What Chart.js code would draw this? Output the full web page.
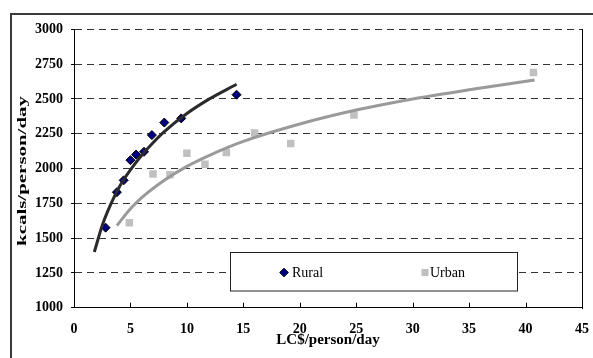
<!DOCTYPE html>
<html>
<head>
<meta charset="utf-8">
<script src="https://cdn.jsdelivr.net/npm/chart.js@4/dist/chart.umd.min.js"></script>
<style>
  html, body { margin: 0; padding: 0; background: #fff; }
  canvas { display: block; }
</style>
</head>
<body>
<canvas id="c" width="593" height="358"></canvas>
<script>
// Daily calorie intake against daily spending, rural and urban households
const seriesNames = ['Rural', 'Urban'];

const ruralIncome = [2.8, 3.8, 4.4, 5.0, 5.5, 6.2, 6.9, 8.0, 9.5, 14.4];
const ruralKcal   = [1575, 1830, 1915, 2060, 2100, 2120, 2240, 2330, 2360, 2530];

const urbanIncome = [4.9, 7.0, 8.5, 10.0, 11.6, 13.5, 16.0, 19.2, 24.8, 40.7];
const urbanKcal   = [1610, 1960, 1955, 2110, 2030, 2115, 2255, 2180, 2385, 2690];

// Logarithmic trend curves, sampled along their length
const ruralTrendIncome = [1.8, 2.5, 3, 4, 5, 6, 7, 8, 10, 12, 14.4];
const ruralTrendKcal   = [1400, 1590, 1695, 1865, 1990, 2095, 2185, 2265, 2395, 2500, 2605];

const urbanTrendIncome = [3.8, 5, 6, 8, 10, 12, 15, 20, 25, 30, 35, 40.8];
const urbanTrendKcal   = [1590, 1710, 1790, 1915, 2015, 2095, 2195, 2320, 2420, 2500, 2565, 2635];

const xTicks = [0, 5, 10, 15, 20, 25, 30, 35, 40, 45];
const yTicks = [1000, 1250, 1500, 1750, 2000, 2250, 2500, 2750, 3000];

const xTitle = 'LC$/person/day';
const yTitle = 'kcals/person/day';

const serif = "'Liberation Serif', 'Times New Roman', serif";

function toPoints(xs, ys) {
  return xs.map((x, i) => ({ x: x, y: ys[i] }));
}

// Outer frame around the whole figure
const framePlugin = {
  id: 'frame',
  beforeDraw(chart) {
    const ctx = chart.ctx;
    ctx.save();
    ctx.strokeStyle = '#3a3a3a';
    ctx.lineWidth = 2;
    ctx.beginPath();
    ctx.moveTo(11, chart.height + 5);
    ctx.lineTo(11, 14);
    ctx.lineTo(chart.width + 5, 14);
    ctx.stroke();
    ctx.restore();
  }
};

// Right edge of the plot area, inward x tick marks, rotated y title, boxed legend
const decorPlugin = {
  id: 'decor',
  afterDraw(chart) {
    const ctx = chart.ctx;
    const area = chart.chartArea;
    const xs = chart.scales.x;
    ctx.save();

    ctx.strokeStyle = '#000';
    ctx.lineWidth = 1;
    ctx.beginPath();
    const rx = Math.round(area.right) + 0.5;
    ctx.moveTo(rx, Math.round(area.top));
    ctx.lineTo(rx, Math.round(area.bottom) + 1);
    ctx.stroke();

    ctx.beginPath();
    xTicks.forEach(v => {
      const px = Math.round(xs.getPixelForValue(v)) + 0.5;
      ctx.moveTo(px, area.bottom);
      ctx.lineTo(px, area.bottom - 5);
    });
    ctx.stroke();

    // y axis title
    ctx.fillStyle = '#000';
    ctx.font = 'bold 13px ' + serif;
    ctx.textAlign = 'center';
    ctx.textBaseline = 'middle';
    const w = ctx.measureText(yTitle).width;
    ctx.save();
    ctx.translate(23, 171);
    ctx.rotate(-Math.PI / 2);
    ctx.scale(150 / w, 1);
    ctx.fillText(yTitle, 0, 0);
    ctx.restore();

    // legend box
    const box = { x: 230.5, y: 252.5, w: 287, h: 38.5 };
    ctx.fillStyle = '#fff';
    ctx.fillRect(box.x, box.y, box.w, box.h);
    ctx.strokeStyle = '#222';
    ctx.lineWidth = 1;
    ctx.strokeRect(box.x, box.y, box.w, box.h);

    const cy = 272.5;
    const entries = [
      { ds: chart.data.datasets[2], px: 284, tx: 292 },
      { ds: chart.data.datasets[3], px: 425, tx: 430 }
    ];
    ctx.font = '14px ' + serif;
    ctx.textAlign = 'left';
    ctx.textBaseline = 'middle';
    entries.forEach(e => {
      ctx.fillStyle = e.ds.backgroundColor;
      ctx.strokeStyle = e.ds.borderColor;
      ctx.lineWidth = e.ds.borderWidth;
      Chart.helpers.drawPoint(ctx, {
        pointStyle: e.ds.pointStyle,
        radius: e.ds.pointStyle === 'rect' ? 5 : 4.3,
        rotation: 0,
        borderWidth: e.ds.borderWidth
      }, e.px, cy);
      ctx.fillStyle = '#000';
      ctx.fillText(e.ds.label, e.tx, cy + 0.5);
    });

    ctx.restore();
  }
};

new Chart(document.getElementById('c'), {
  type: 'scatter',
  data: {
    datasets: [
      {
        label: seriesNames[0] + ' trend',
        data: toPoints(ruralTrendIncome, ruralTrendKcal),
        showLine: true,
        borderColor: '#2b2b2b',
        borderWidth: 3,
        pointRadius: 0,
        cubicInterpolationMode: 'monotone',
        fill: false,
        order: 0
      },
      {
        label: seriesNames[1] + ' trend',
        data: toPoints(urbanTrendIncome, urbanTrendKcal),
        showLine: true,
        borderColor: '#9a9a9a',
        borderWidth: 3,
        pointRadius: 0,
        cubicInterpolationMode: 'monotone',
        fill: false,
        order: 0
      },
      {
        label: seriesNames[0],
        data: toPoints(ruralIncome, ruralKcal),
        showLine: false,
        pointStyle: 'rectRot',
        pointRadius: 4.5,
        backgroundColor: '#000080',
        borderColor: '#000',
        borderWidth: 1,
        order: 1
      },
      {
        label: seriesNames[1],
        data: toPoints(urbanIncome, urbanKcal),
        showLine: false,
        pointStyle: 'rect',
        pointRadius: 5.3,
        backgroundColor: '#c0c0c0',
        borderColor: '#c0c0c0',
        borderWidth: 0,
        order: 1
      }
    ]
  },
  options: {
    responsive: false,
    animation: false,
    devicePixelRatio: 1,
    layout: { padding: { top: 29.3, right: 11, left: 0, bottom: 0 } },
    plugins: {
      legend: { display: false },
      tooltip: { enabled: false }
    },
    scales: {
      x: {
        type: 'linear',
        min: xTicks[0],
        max: xTicks[xTicks.length - 1],
        afterBuildTicks: s => { s.ticks = xTicks.map(v => ({ value: v })); },
        afterFit: s => {
          s.height = 50.3;
          s.paddingLeft = 0; s.paddingRight = 0; s.paddingTop = 0; s.paddingBottom = 0;
        },
        grid: { display: false, drawTicks: false },
        border: { display: true, color: '#000', width: 1 },
        ticks: {
          padding: 13.5,
          color: '#000',
          font: { family: serif, size: 14, weight: 'bold' },
          maxRotation: 0,
          callback: v => String(v)
        },
        title: {
          display: true,
          text: xTitle,
          color: '#000',
          font: { family: serif, size: 15, weight: 'bold' },
          padding: { top: 0, bottom: 9 }
        }
      },
      y: {
        type: 'linear',
        min: yTicks[0],
        max: yTicks[yTicks.length - 1],
        afterBuildTicks: s => { s.ticks = yTicks.map(v => ({ value: v })); },
        afterFit: s => {
          s.width = 74;
          s.paddingLeft = 0; s.paddingRight = 0; s.paddingTop = 0; s.paddingBottom = 0;
        },
        grid: {
          color: c => (c.tick && c.tick.value === yTicks[0]) ? 'rgba(0,0,0,0)' : '#333',
          tickColor: '#000',
          tickLength: 3,
          tickBorderDash: [],
          drawTicks: true,
          lineWidth: 1
        },
        border: { display: true, color: '#000', width: 1, dash: [7, 5] },
        ticks: {
          padding: 8,
          color: '#000',
          font: { family: serif, size: 14, weight: 'bold' },
          callback: v => String(v)
        }
      }
    }
  },
  plugins: [framePlugin, decorPlugin]
});
</script>
</body>
</html>
